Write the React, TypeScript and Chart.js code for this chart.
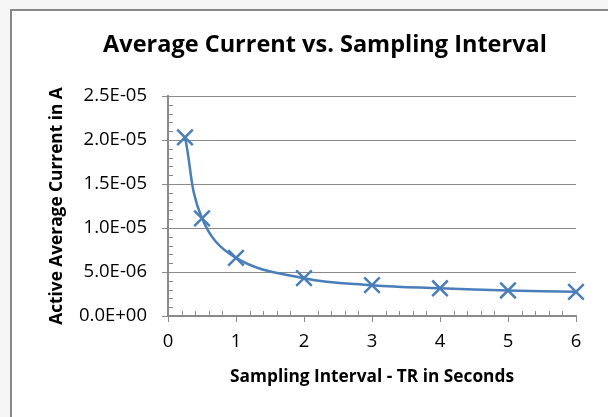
import React, { useEffect, useRef } from "react";
import { Chart, registerables } from "chart.js";

Chart.register(...registerables);

const chartTitle = "Average Current vs. Sampling Interval";
const xAxisTitle = "Sampling Interval - TR in Seconds";
const yAxisTitle = "Active Average Current in A";

const intervals = [0.25, 0.5, 1, 2, 3, 4, 5, 6];
const currents = [2.03e-5, 1.11e-5, 6.6e-6, 4.3e-6, 3.5e-6, 3.15e-6, 2.9e-6, 2.75e-6];

const xMin = 0;
const xMax = 6;
const xMajorStep = 1;
const xMinorStep = 0.2;
const yMin = 0;
const yMax = 2.5e-5;
const yMajorStep = 5e-6;
const yMinorStep = 1e-6;

const FONT = "'Open Sans', 'Noto Sans', sans-serif";
const AXIS_GRAY = "#8a8a8a";
const BLUE = "#4a7ebb";

const LEFT_PAD = 74;
const TITLE_SIZE = 23.5;
const AXIS_TITLE_SIZE = 17.3;
const TICK_SIZE = 18.5;

function formatSci(v: number): string {
  if (Math.abs(v) < 1e-15) return "0.0E+00";
  const [m, e] = v.toExponential(1).split("e");
  const exp = parseInt(e, 10);
  const sign = exp < 0 ? "-" : "+";
  const abs = Math.abs(exp);
  return m + "E" + sign + (abs < 10 ? "0" + abs : String(abs));
}

const minorTicksPlugin = {
  id: "minorTicks",
  afterDraw(chart: any) {
    const ctx = chart.ctx;
    const xs = chart.scales.x;
    const ys = chart.scales.y;
    ctx.save();
    ctx.strokeStyle = AXIS_GRAY;
    ctx.lineWidth = 1;
    ctx.beginPath();
    const nX = Math.round((xMax - xMin) / xMinorStep);
    for (let i = 1; i < nX; i++) {
      const v = xMin + i * xMinorStep;
      if (Math.abs(v / xMajorStep - Math.round(v / xMajorStep)) < 1e-6) continue;
      const px = Math.round(xs.getPixelForValue(v)) + 0.5;
      ctx.moveTo(px, ys.bottom);
      ctx.lineTo(px, ys.bottom - 5);
    }
    const nY = Math.round((yMax - yMin) / yMinorStep);
    for (let i = 1; i < nY; i++) {
      const v = yMin + i * yMinorStep;
      if (Math.abs(v / yMajorStep - Math.round(v / yMajorStep)) < 1e-6) continue;
      const py = Math.round(ys.getPixelForValue(v)) + 0.5;
      ctx.moveTo(xs.left, py);
      ctx.lineTo(xs.left + 5, py);
    }
    ctx.stroke();
    ctx.restore();
  },
};

export default function App() {
  const canvasRef = useRef<HTMLCanvasElement | null>(null);

  useEffect(() => {
    if (!canvasRef.current) return;
    const chart = new Chart(canvasRef.current, {
      type: "line",
      data: {
        datasets: [
          {
            data: intervals.map((x, i) => ({ x, y: currents[i] })),
            borderColor: BLUE,
            backgroundColor: BLUE,
            borderWidth: 2.5,
            tension: 0.4,
            clip: false,
            pointStyle: "crossRot",
            pointRadius: 11,
            pointBorderWidth: 2.5,
            pointBorderColor: BLUE,
            pointBackgroundColor: BLUE,
          },
        ],
      },
      options: {
        animation: false,
        responsive: false,
        devicePixelRatio: 1,
        layout: { padding: { top: 0, left: LEFT_PAD, right: 32, bottom: 0 } },
        plugins: {
          legend: { display: false },
          tooltip: { enabled: false },
          title: {
            display: true,
            text: chartTitle,
            color: "#000",
            font: { family: FONT, size: TITLE_SIZE, weight: "bold" },
            padding: { top: 31, bottom: 96 - 31 - TITLE_SIZE * 1.2 },
          },
        },
        scales: {
          x: {
            type: "linear",
            min: xMin,
            max: xMax,
            afterFit(scale: any) {
              scale.height = 101;
            },
            ticks: {
              stepSize: xMajorStep,
              color: "#000",
              font: { family: FONT, size: TICK_SIZE },
              padding: 9,
              maxRotation: 0,
            },
            grid: {
              drawOnChartArea: false,
              drawTicks: true,
              tickLength: 6,
              tickColor: AXIS_GRAY,
              color: AXIS_GRAY,
            },
            border: { display: true, color: AXIS_GRAY, width: 2 },
            title: {
              display: true,
              text: xAxisTitle,
              color: "#000",
              font: { family: FONT, size: AXIS_TITLE_SIZE, weight: "bold" },
              padding: { top: 0, bottom: 30 },
            },
          },
          y: {
            type: "linear",
            min: yMin,
            max: yMax,
            afterFit(scale: any) {
              scale.width = 168 - LEFT_PAD;
            },
            ticks: {
              stepSize: yMajorStep,
              color: "#000",
              font: { family: FONT, size: TICK_SIZE },
              padding: 15,
              callback: (v: any) => formatSci(Number(v)),
            },
            grid: {
              drawOnChartArea: true,
              drawTicks: true,
              tickLength: 6,
              color: AXIS_GRAY,
              tickColor: AXIS_GRAY,
              lineWidth: 1,
            },
            border: { display: true, color: AXIS_GRAY, width: 2 },
            title: {
              display: true,
              text: yAxisTitle,
              color: "#000",
              font: { family: FONT, size: AXIS_TITLE_SIZE, weight: "bold" },
              padding: { top: 57 - LEFT_PAD - (AXIS_TITLE_SIZE * 1.2) / 2, bottom: 0 },
            },
          },
        },
      },
      plugins: [minorTicksPlugin],
    } as any);
    return () => chart.destroy();
  }, []);

  return (
    <div
      style={{
        position: "fixed",
        left: 0,
        top: 0,
        width: 608,
        height: 417,
        overflow: "hidden",
        background: "#f6f6f6",
      }}
    >
      <div
        style={{
          position: "absolute",
          left: 10,
          top: 9,
          width: 700,
          height: 500,
          border: "2px solid #888",
          background: "#fff",
        }}
      />
      <canvas
        ref={canvasRef}
        width={608}
        height={417}
        style={{ position: "absolute", left: 0, top: 0, width: 608, height: 417 }}
      />
    </div>
  );
}
